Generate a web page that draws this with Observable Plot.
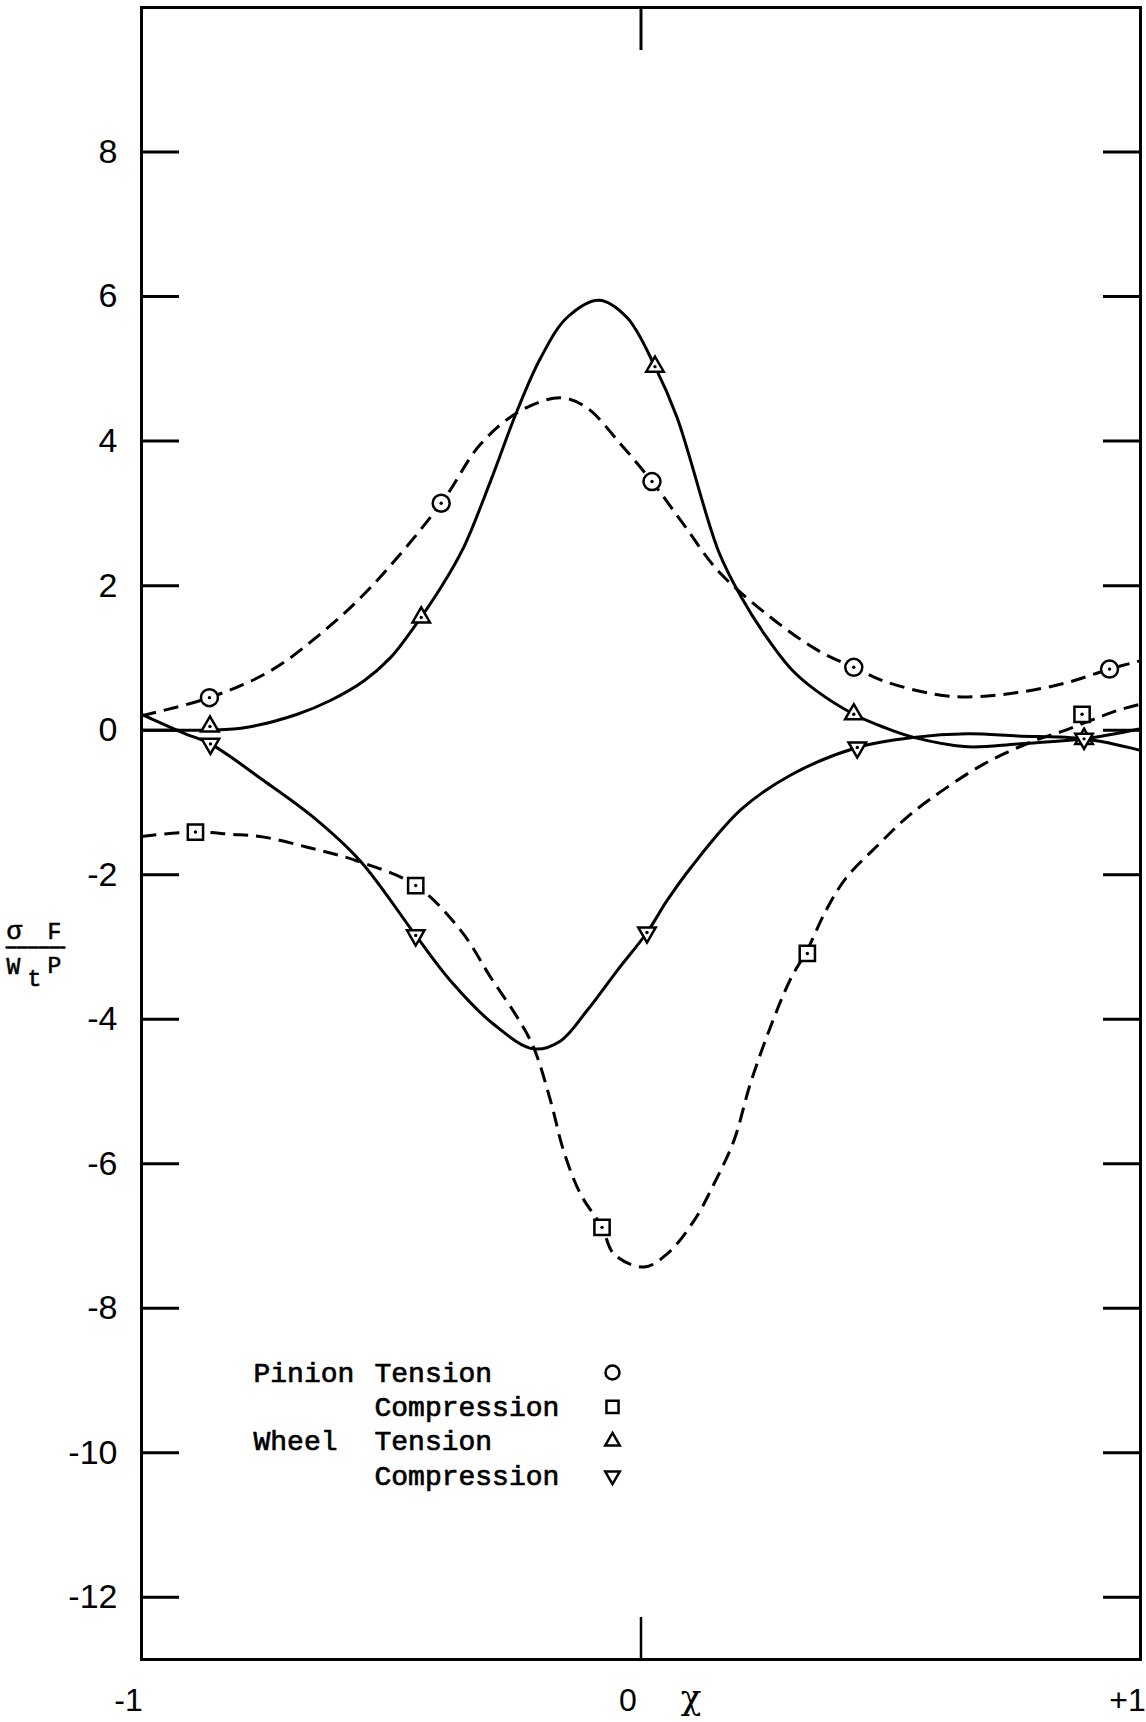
<!DOCTYPE html>
<html>
<head>
<meta charset="utf-8">
<script src="https://cdn.jsdelivr.net/npm/d3@7"></script>
<script src="https://cdn.jsdelivr.net/npm/@observablehq/plot@0.6"></script>
<style>
  html, body { margin: 0; padding: 0; background: #fff; }
  #chart { width: 1146px; height: 1722px; }
</style>
</head>
<body>
<div id="chart"></div>
<script>
// Stress factor σF/(Wt·P) across the face width χ, pinion and wheel, tension and compression.

const yTicks = [8, 6, 4, 2, 0, -2, -4, -6, -8, -10, -12];
const xTicks = [-1, 0, 1];
const xTickLabels = ["-1", "0", "+1"];

// Pinion tension: faired dashed curve and measured points (circles)
const ptCurveX = [-1, -0.864, -0.742, -0.642, -0.542, -0.40, -0.321, -0.241, -0.161, -0.108, -0.041, 0.022, 0.085, 0.155, 0.256, 0.355, 0.426, 0.486, 0.586, 0.654, 0.754, 0.854, 0.938, 1.0];
const ptCurveY = [0.20, 0.45, 0.82, 1.33, 1.97, 3.14, 3.96, 4.42, 4.60, 4.46, 3.96, 3.44, 2.85, 2.20, 1.58, 1.10, 0.87, 0.68, 0.50, 0.46, 0.52, 0.66, 0.845, 0.96];
const ptPointX = [-0.864, -0.400, 0.022, 0.426, 0.938];
const ptPointY = [0.45, 3.14, 3.44, 0.87, 0.845];

// Pinion compression: faired dashed curve and measured points (squares)
const pcCurveX = [-1, -0.892, -0.822, -0.755, -0.668, -0.568, -0.451, -0.361, -0.301, -0.248, -0.215, -0.181, -0.155, -0.121, -0.078, -0.054, 0.006, 0.052, 0.106, 0.146, 0.186, 0.219, 0.259, 0.299, 0.333, 0.370, 0.410, 0.476, 0.530, 0.580, 0.686, 0.786, 0.846, 0.953, 1.0];
const pcCurveY = [-1.47, -1.41, -1.44, -1.48, -1.62, -1.81, -2.15, -2.77, -3.42, -3.97, -4.39, -5.13, -5.82, -6.42, -6.88, -7.25, -7.43, -7.25, -6.79, -6.28, -5.68, -4.89, -4.11, -3.45, -3.04, -2.50, -2.05, -1.58, -1.22, -0.95, -0.47, -0.15, -0.01, 0.27, 0.36];
const pcPointX = [-0.892, -0.451, -0.078, 0.333, 0.883];
const pcPointY = [-1.41, -2.15, -6.88, -3.09, 0.22];

// Wheel tension: faired solid curve and measured points (triangles)
const wtCurveX = [-1, -0.93, -0.86, -0.788, -0.688, -0.622, -0.555, -0.502, -0.455, -0.401, -0.355, -0.301, -0.248, -0.201, -0.148, -0.084, -0.028, 0.028, 0.072, 0.155, 0.20, 0.25, 0.30, 0.35, 0.426, 0.486, 0.546, 0.654, 0.754, 0.887, 1.0];
const wtCurveY = [0.0, 0.0, 0.0, 0.04, 0.22, 0.41, 0.68, 1.0, 1.42, 1.97, 2.53, 3.45, 4.42, 5.15, 5.71, 5.95, 5.71, 5.03, 4.33, 2.48, 1.85, 1.30, 0.85, 0.55, 0.22, 0.04, -0.10, -0.23, -0.19, -0.12, 0.02];
const wtPointX = [-0.863, -0.440, 0.028, 0.426, 0.887];
const wtPointY = [0.05, 1.56, 5.03, 0.22, -0.12];

// Wheel compression: faired solid curve and measured points (inverted triangles)
const wcCurveX = [-1, -0.912, -0.862, -0.755, -0.655, -0.562, -0.451, -0.381, -0.295, -0.215, -0.161, -0.108, -0.048, 0.012, 0.052, 0.10, 0.20, 0.30, 0.433, 0.546, 0.654, 0.754, 0.887, 1.0];
const wcCurveY = [0.22, -0.05, -0.19, -0.70, -1.21, -1.81, -2.84, -3.47, -4.07, -4.41, -4.30, -3.88, -3.33, -2.80, -2.36, -1.90, -1.10, -0.62, -0.24, -0.10, -0.05, -0.08, -0.12, -0.28];
const wcPointX = [-0.862, -0.451, 0.012, 0.433, 0.887];
const wcPointY = [-0.19, -2.84, -2.80, -0.24, -0.12];

// Legend rows
const legendMember = ["Pinion", "", "Wheel", ""];
const legendKind = ["Tension", "Compression", "Tension", "Compression"];
const legendSymbol = ["circle", "square", "triangle", "triangle"];
const legendRotate = [0, 0, 0, 180];

// ---- layout ----
const width = 1146, height = 1722;
const marginTop = 7, marginRight = 6, marginBottom = 63, marginLeft = 141;
const ink = "#000";

const table = (xs, ys) => xs.map((x, i) => ({x, y: ys[i]}));
const fmtY = d => (d < 0 ? "-" + Math.abs(d) : String(d));

const curveStyle = {x: "x", y: "y", curve: "catmull-rom", stroke: ink, strokeWidth: 3, strokeLinecap: "round"};
const dashed = {strokeDasharray: "15,8", strokeLinecap: "butt"};

function pointMarks(xs, ys, symbol, r, rotate = 0) {
  const data = table(xs, ys);
  return [
    Plot.dot(data, {x: "x", y: "y", symbol, r, rotate, fill: "white", stroke: ink, strokeWidth: 2.5}),
    Plot.dot(data, {x: "x", y: "y", r: 1.7, fill: ink, stroke: null})
  ];
}

const legendTop = 1372;   // centre of first legend row
const legendStep = 34.4;
const legendFont = {fontFamily: "Liberation Mono", fontSize: 28, fill: ink, stroke: ink, strokeWidth: 0.7};

const frameMidY = (marginTop + height - marginBottom) / 2;
const typed = {fontFamily: "Liberation Mono", fontSize: 23, fill: ink, stroke: ink, strokeWidth: 0.6, lineAnchor: "bottom", textAnchor: "start", frameAnchor: "left"};
// straight stroke used for the fraction bar of the axis label
const barShape = {draw(context, l) { context.moveTo(0, 0); context.lineTo(0, -l); }};

const chart = Plot.plot({
  width, height, marginTop, marginRight, marginBottom, marginLeft,
  x: {domain: [-1, 1]},
  y: {domain: [-12.86, 10]},
  style: {background: "white", color: ink, fontFamily: "Liberation Sans"},
  marks: [
    // tick labels
    Plot.axisY(yTicks, {anchor: "left", tickSize: 0, tickPadding: 24, tickFormat: fmtY, fontSize: 34, label: null}),
    Plot.axisX(xTicks, {anchor: "bottom", tickSize: 0, tickPadding: 29, tickFormat: d => xTickLabels[xTicks.indexOf(d)], fontSize: 32, textAnchor: "middle", dx: -13, label: null}),
    // inward ticks on all four sides
    Plot.axisY(yTicks, {anchor: "left", tickSize: -38, tickFormat: () => "", strokeWidth: 3, label: null}),
    Plot.axisY(yTicks, {anchor: "right", tickSize: -38, tickFormat: () => "", strokeWidth: 3, label: null}),
    Plot.axisX([0], {anchor: "top", tickSize: -42, tickFormat: () => "", strokeWidth: 3, label: null}),
    Plot.axisX([0], {anchor: "bottom", tickSize: -42, tickFormat: () => "", strokeWidth: 2.5, label: null}),
    Plot.frame({stroke: ink, strokeWidth: 3}),

    // faired curves
    Plot.line(table(ptCurveX, ptCurveY), {...curveStyle, ...dashed}),
    Plot.line(table(pcCurveX, pcCurveY), {...curveStyle, ...dashed}),
    Plot.line(table(wtCurveX, wtCurveY), curveStyle),
    Plot.line(table(wcCurveX, wcCurveY), curveStyle),

    // measured points
    ...pointMarks(ptPointX, ptPointY, "circle", 8.5),
    ...pointMarks(pcPointX, pcPointY, "square", 8.6),
    ...pointMarks(wtPointX, wtPointY, "triangle", 6.5),
    ...pointMarks(wcPointX, wcPointY, "triangle", 6.5, 180),

    // legend
    Plot.text([legendMember.join("\n")], {...legendFont, frameAnchor: "top-left", textAnchor: "start", lineAnchor: "middle", lineHeight: legendStep / 28, dx: 112, dy: legendTop - marginTop + 1.5 * legendStep - 2}),
    Plot.text([legendKind.join("\n")], {...legendFont, frameAnchor: "top-left", textAnchor: "start", lineAnchor: "middle", lineHeight: legendStep / 28, dx: 233, dy: legendTop - marginTop + 1.5 * legendStep - 2}),
    ...legendSymbol.map((s, i) => Plot.dot([s], {
      frameAnchor: "top-left", dx: 471, dy: legendTop - marginTop + i * legendStep,
      symbol: s, rotate: legendRotate[i], r: s === "circle" ? 7 : s === "square" ? 6.8 : 5.4,
      fill: "none", stroke: ink, strokeWidth: 2.5
    })),

    // vertical axis label: σF / (Wt P)
    Plot.text(["σ"], {...typed, fontSize: 26, dx: 6 - marginLeft, dy: 938 - frameMidY}),
    Plot.text(["F"], {...typed, dx: 47 - marginLeft, dy: 938 - frameMidY}),
    Plot.vector([0], {frameAnchor: "left", dx: 6 - marginLeft, dy: 947 - frameMidY, rotate: 90, length: 58, anchor: "start", shape: barShape, stroke: ink, strokeWidth: 2.5, strokeDasharray: "9,2"}),
    Plot.text(["W"], {...typed, dx: 6 - marginLeft, dy: 973 - frameMidY}),
    Plot.text(["t"], {...typed, dx: 27 - marginLeft, dy: 985 - frameMidY}),
    Plot.text(["P"], {...typed, dx: 47 - marginLeft, dy: 972 - frameMidY}),

    // horizontal axis label
    Plot.text(["χ"], {frameAnchor: "bottom", fontFamily: "DejaVu Serif", fontSize: 34, fill: ink, textAnchor: "middle", lineAnchor: "bottom", dx: 50, dy: 49})
  ]
});

document.getElementById("chart").appendChild(chart);
</script>
</body>
</html>
